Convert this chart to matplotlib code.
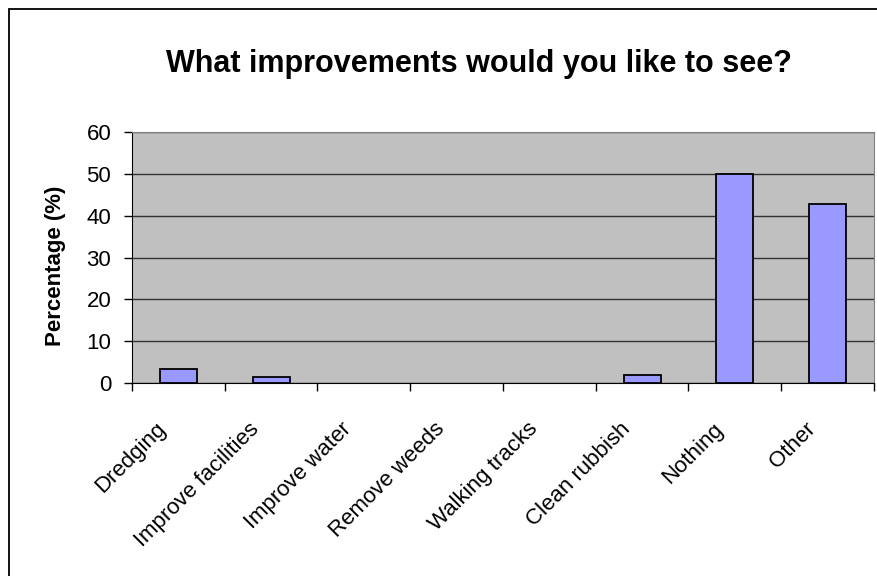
import matplotlib
matplotlib.use("Agg")
from matplotlib import pyplot as plt
from matplotlib.patches import Rectangle

categories = ["Dredging", "Improve facilities", "Improve water", "Remove weeds",
              "Walking tracks", "Clean rubbish", "Nothing", "Other"]
percentages = [3.3, 1.4, 0, 0, 0, 1.8, 50, 42.9]
y_ticks = [0, 10, 20, 30, 40, 50, 60]

plt.rcParams["font.family"] = ["Liberation Sans", "DejaVu Sans"]

W, H = 878, 576
fig = plt.figure(figsize=(W / 100, H / 100), dpi=100)

# outer chart border (extends past the right/bottom edge in the original)
fig.patches.append(Rectangle((9.5 / W, -0.1), 1.2, 1 - 8.5 / H + 0.1,
                             transform=fig.transFigure, fill=False,
                             edgecolor="black", linewidth=1.3))

ax = fig.add_axes([132 / W, 1 - 383 / H, 742 / W, 251 / H])
ax.set_facecolor("#C0C0C0")

x = list(range(len(categories)))
# zero-height bars show no outline in the original
edge_widths = [1.3 if v > 0 else 0 for v in percentages]
ax.bar(x, percentages, width=0.4, color="#9999FF", edgecolor="black",
       linewidth=edge_widths, zorder=3)

ax.set_xlim(-0.5, len(categories) - 0.5)
ax.set_ylim(0, 60)
ax.set_yticks(y_ticks)
ax.set_yticklabels([str(t) for t in y_ticks], fontsize=16)
ax.yaxis.grid(True, color="#333333", linewidth=1)
ax.set_axisbelow(True)

# category boundary ticks
ax.set_xticks([i - 0.5 for i in range(len(categories) + 1)])
ax.set_xticklabels([])
ax.tick_params(axis="x", direction="out", length=6, width=1)
ax.tick_params(axis="y", direction="out", length=6, width=1, pad=9)

for i, name in enumerate(categories):
    ax.annotate(name, xy=(i, 0), xycoords=("data", "axes fraction"),
                xytext=(-11, -31), textcoords="offset points",
                rotation=45, rotation_mode="anchor", ha="right", va="center",
                fontsize=16)

for side in ["top", "right"]:
    ax.spines[side].set_color("#808080")
ax.spines["left"].set_color("black")
ax.spines["bottom"].set_color("black")

fig.text(55 / W, 1 - 266 / H, "Percentage (%)", rotation=90,
         ha="center", va="center", fontsize=16, fontweight="bold")
fig.text(479 / W, 1 - 64 / H, "What improvements would you like to see?",
         ha="center", va="center", fontsize=22, fontweight="bold")

fig.savefig("out.png", dpi=100)
